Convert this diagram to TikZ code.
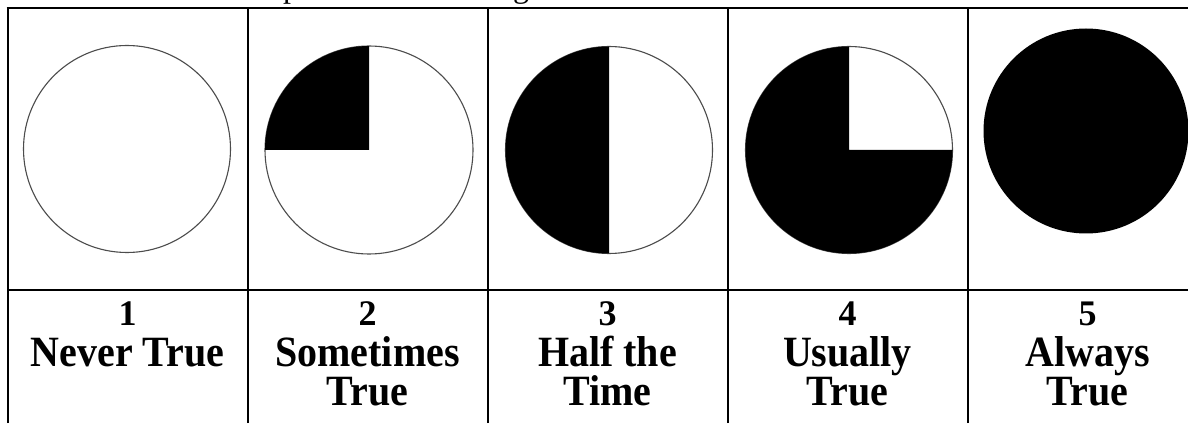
\documentclass[tikz,border=0pt]{standalone}
\usepackage{fontspec}
\setmainfont{Liberation Serif}
\begin{document}
\begin{tikzpicture}[x=1pt,y=1pt,
  rule/.style={line width=2pt,black},
  ring/.style={draw=black!70,line width=1.1pt,fill=white},
  lab/.style={anchor=base,font=\bfseries\fontsize{40}{40}\selectfont,inner sep=0pt,yscale=1.08},
  num/.style={anchor=base,font=\bfseries\fontsize{36}{36}\selectfont,inner sep=0pt},
  frag/.style={anchor=base west,inner sep=0pt,font=\fontsize{32}{32}\selectfont}]
\useasboundingbox (0,0) rectangle (1188,423);
\fill[white] (0,0) rectangle (1188,423);
% cut-off text above the table
\begin{scope}
\clip (0,0) rectangle (1188,423);
\node[frag] (fp) at (283,425.5) {p};
\node[frag] (fg) at (513,425.5) {g};
\end{scope}
% table rules
\draw[rule] (7.5,0) -- (7.5,416);
\foreach \x in {248,488,728,968} \draw[rule] (\x,0) -- (\x,416);
\draw[rule] (6.5,415) -- (1188,415);
\draw[rule] (7.5,133) -- (1188,133);
% circles
\coordinate (c1) at (127,274);
\coordinate (c2) at (369,273);
\coordinate (c3) at (609,273);
\coordinate (c4) at (849,273);
\coordinate (c5) at (1086,292);
\draw[ring] (c1) circle (103.5);
\draw[ring] (c2) circle (104);
\fill[black] (c2) -- ++(0,104) arc (90:180:104) -- cycle;
\draw[ring] (c3) circle (103.5);
\fill[black] (c3) -- ++(0,103.5) arc (90:270:103.5) -- cycle;
\draw[ring] (c4) circle (103.5);
\fill[black] (c4) -- ++(103.5,0) arc (0:-270:103.5) -- cycle;
\fill[black] (c5) circle (102.5);
% labels
\node[num] (n1) at (127.5,97) {1};
\node[lab] (a1) at (127.5,56.5) {Never True};
\node[num] (n2) at (367.5,97) {2};
\node[lab] (a2) at (367.5,56.5) {Sometimes};
\node[lab] (b2) at (367.5,18) {True};
\node[num] (n3) at (607.5,97) {3};
\node[lab] (a3) at (607.5,56.5) {Half the};
\node[lab] (b3) at (607.5,18) {Time};
\node[num] (n4) at (847.5,97) {4};
\node[lab] (a4) at (847.5,56.5) {Usually};
\node[lab] (b4) at (847.5,18) {True};
\node[num] (n5) at (1087.5,97) {5};
\node[lab] (a5) at (1087.5,56.5) {Always};
\node[lab] (b5) at (1087.5,18) {True};
\end{tikzpicture}
\end{document}
